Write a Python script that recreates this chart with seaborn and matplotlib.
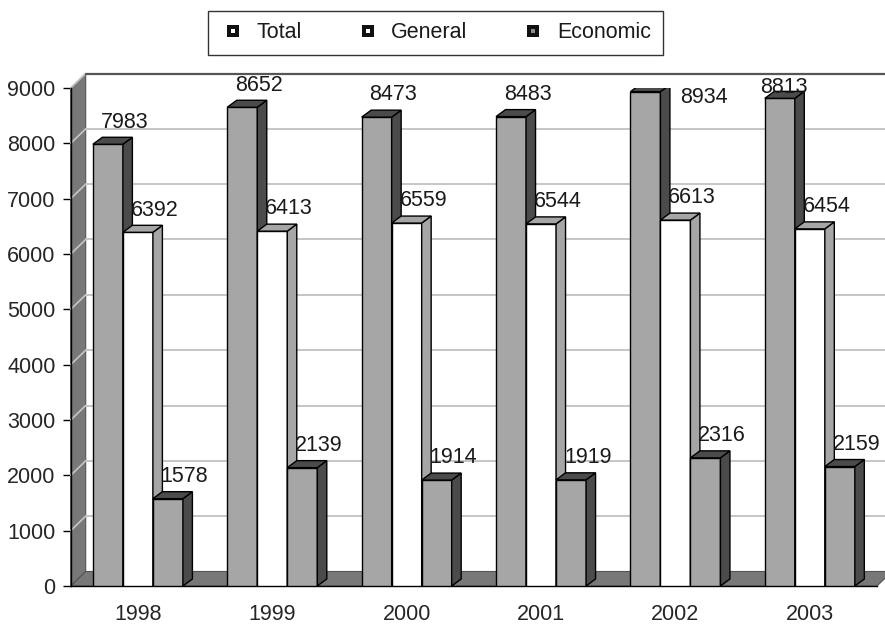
import matplotlib
matplotlib.use("Agg")
import matplotlib.pyplot as plt
from matplotlib.patches import Polygon
from matplotlib.lines import Line2D
from matplotlib.legend_handler import HandlerTuple
import seaborn as sns
import pandas as pd

# ---- data -------------------------------------------------------------
years = ["1998", "1999", "2000", "2001", "2002", "2003"]
series = ["Total", "General", "Economic"]
total = [7983, 8652, 8473, 8483, 8934, 8813]
general = [6392, 6413, 6559, 6544, 6613, 6454]
economic = [1578, 2139, 1914, 1919, 2316, 2159]
y_ticks = [0, 1000, 2000, 3000, 4000, 5000, 6000, 7000, 8000, 9000]

df = pd.DataFrame({
    "Year": years * 3,
    "Series": [s for s in series for _ in years],
    "Value": total + general + economic,
})

# ---- style ------------------------------------------------------------
sns.set_style("white")
plt.rcParams["font.family"] = ["Liberation Sans", "DejaVu Sans"]
FS = 15.5
plt.rcParams["font.size"] = FS
plt.rcParams["text.color"] = "#1a1a1a"

LIGHT = "#a6a6a6"
DARK = "#4b4b4b"
WALL = "#787878"
GRID = "#c6c6c6"
front_colors = {"Total": LIGHT, "General": "#ffffff", "Economic": LIGHT}
depth_colors = {"Total": DARK, "General": LIGHT, "Economic": DARK}

W, H = 885, 625
fig = plt.figure(figsize=(W / 100, H / 100), dpi=100)
ax_left, ax_right, ax_bottom, ax_top = 70.7, 877, 39, 537
ax = fig.add_axes([ax_left / W, ax_bottom / H,
                   (ax_right - ax_left) / W, (ax_top - ax_bottom) / H])

sns.barplot(data=df, x="Year", y="Value", hue="Series", order=years,
            hue_order=series, palette=front_colors, width=0.67,
            edgecolor="black", linewidth=1.0, legend=False, ax=ax)

ax.set_xlim(-0.5, len(years) - 0.5)
ax.set_ylim(0, 9000)

# pixel -> data conversions for the pseudo-3D depth
px_x = (len(years)) / (ax_right - ax_left)
px_y = 9000 / (ax_top - ax_bottom)
wall_dx, wall_dy = 15 * px_x, 14.5 * px_y
bar_dx, bar_dy = 9.5 * px_x, 7 * px_y

x0, x1 = -0.5, len(years) - 0.5

# left wall, back wall, floor
ax.add_patch(Polygon([(x0, 0), (x0, 9000), (x0 + wall_dx, 9000 + wall_dy),
                      (x0 + wall_dx, wall_dy)], closed=True, facecolor=WALL,
                     edgecolor="#555555", lw=0.8, zorder=0.5, clip_on=False))
ax.add_patch(Polygon([(x0, 0), (x0 + wall_dx, wall_dy), (x1 + wall_dx, wall_dy),
                      (x1, 0)], closed=True, facecolor=WALL,
                     edgecolor="#555555", lw=0.8, zorder=0.6, clip_on=False))
for v in y_ticks[1:]:
    ax.plot([x0, x0 + wall_dx], [v, v + wall_dy], color=GRID, lw=1.2,
            zorder=0.7, clip_on=False)
    if v < 9000:
        ax.plot([x0 + wall_dx, x1 + 2 * wall_dx], [v + wall_dy, v + wall_dy],
                color=GRID, lw=1.4, zorder=0.7, clip_on=False)
ax.plot([x0 + wall_dx, x1 + 2 * wall_dx], [9000 + wall_dy, 9000 + wall_dy],
        color="#555555", lw=1.6, zorder=0.7, clip_on=False)

# add side and top faces to each bar, drawn left to right
bars = []
for s, cont in zip(series, ax.containers):
    for p in cont.patches:
        bars.append((p.get_x(), p, s))
bars.sort(key=lambda t: t[0])

for i, (_, p, s) in enumerate(bars):
    bx, bw, bh = p.get_x(), p.get_width(), p.get_height()
    z = 3 + i * 0.1
    p.set_zorder(z)
    side = Polygon([(bx + bw, 0), (bx + bw + bar_dx, bar_dy),
                    (bx + bw + bar_dx, bh + bar_dy), (bx + bw, bh)],
                   closed=True, facecolor=depth_colors[s], edgecolor="black",
                   lw=1.0, zorder=z + 0.01)
    top = Polygon([(bx, bh), (bx + bar_dx, bh + bar_dy),
                   (bx + bw + bar_dx, bh + bar_dy), (bx + bw, bh)],
                  closed=True, facecolor=depth_colors[s], edgecolor="black",
                  lw=1.0, zorder=z + 0.02)
    ax.add_patch(side)
    ax.add_patch(top)

# value labels
special_offsets = {("2002", "Total"): (42, -4), ("2003", "Total"): (3, 8)}
for s, cont in zip(series, ax.containers):
    for yr, p in zip(years, cont.patches):
        v = p.get_height()
        off = special_offsets.get((yr, s), (12, 16))
        ax.annotate(f"{int(round(v))}", xy=(p.get_x() + p.get_width() / 2, v),
                    xytext=off, textcoords="offset points", ha="center",
                    va="center", fontsize=FS, zorder=20, annotation_clip=False)

# axes
sns.despine(ax=ax, top=True, right=True)
for side_name in ("left", "bottom"):
    ax.spines[side_name].set_color("black")
    ax.spines[side_name].set_linewidth(1.0)
    ax.spines[side_name].set_zorder(2)
ax.set_yticks(y_ticks)
ax.set_yticklabels([str(t) for t in y_ticks])
ax.set_xticks(range(len(years)))
ax.set_xticklabels(years)
ax.set_xticks([i - 0.5 for i in range(len(years) + 1)], minor=True)
ax.tick_params(axis="x", which="major", length=0, pad=13, labelsize=FS)
ax.tick_params(axis="x", which="minor", length=5, width=1, color="black",
               direction="out")
ax.tick_params(axis="y", length=6, width=1, color="black", direction="out",
               pad=5, labelsize=FS, left=True)
ax.set_xlabel("")
ax.set_ylabel("")
ax.grid(False)
ax.set_facecolor("white")

# legend: black square keys with a small inner dot
def marker(dot):
    return (Line2D([], [], marker="s", markerfacecolor="#111111",
                   markeredgecolor="#111111", markersize=9, mew=0,
                   linestyle="none"),
            Line2D([], [], marker="s", markerfacecolor=dot,
                   markeredgecolor=dot, markersize=2.6, mew=0,
                   linestyle="none"))

handles = [marker("white"), marker("white"), marker("#8a8a8a")]
leg = fig.legend(handles, series, handler_map={tuple: HandlerTuple(ndivide=1)},
                 loc="center", ncol=3, mode="expand",
                 bbox_to_anchor=(208 / W, 1 - 57 / H, 455 / W, 48 / H),
                 bbox_transform=fig.transFigure, frameon=True, fancybox=False,
                 edgecolor="black", fontsize=FS, handlelength=1.2,
                 handletextpad=0.5, borderpad=0.55, borderaxespad=0)
leg.get_frame().set_linewidth(1.0)

fig.savefig("out.png", dpi=100)
